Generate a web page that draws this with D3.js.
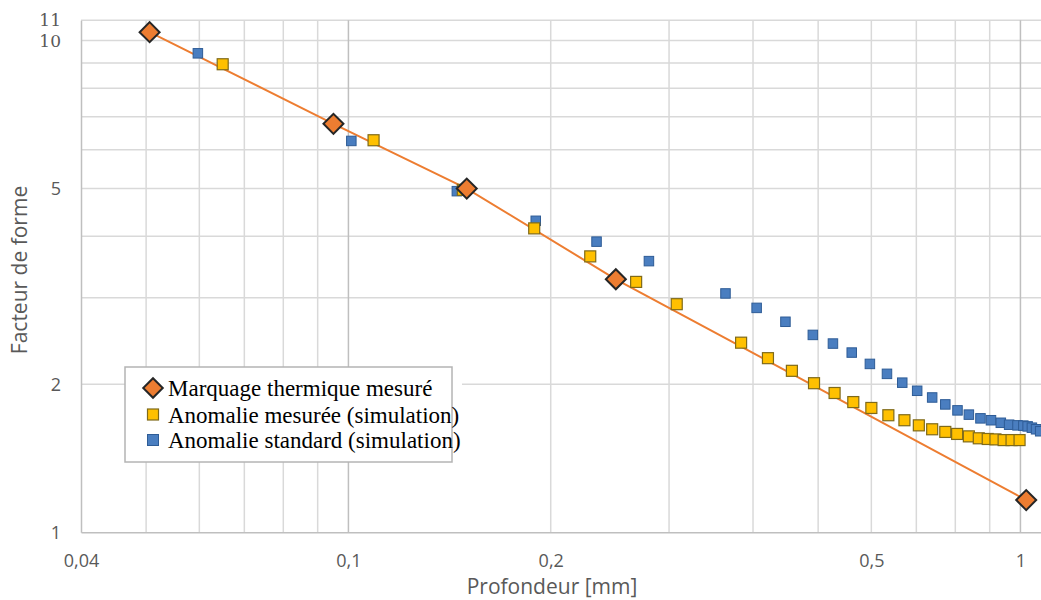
<!DOCTYPE html>
<html>
<head>
<meta charset="utf-8">
<script src="https://cdn.jsdelivr.net/npm/d3@7"></script>
<style>
  html, body { margin: 0; padding: 0; background: #ffffff; }
  svg { display: block; }
</style>
</head>
<body>
<svg id="chart" width="1041" height="600"></svg>
<script>
// ---- Data ----
const seriesNames = ["Marquage thermique mesuré", "Anomalie mesurée (simulation)", "Anomalie standard (simulation)"];

const markDepth = [0.0506, 0.095, 0.15, 0.25, 1.02];
const markForm  = [10.4, 6.77, 5.0, 3.27, 1.163];

const mesDepth = [0.065, 0.109, 0.148, 0.189, 0.229, 0.268, 0.308, 0.384, 0.421, 0.457, 0.493, 0.529, 0.564, 0.600, 0.636, 0.672, 0.706, 0.739, 0.773, 0.805, 0.838, 0.867, 0.894, 0.918, 0.944, 0.970, 0.997];
const mesForm  = [8.95, 6.27, 4.97, 4.15, 3.64, 3.23, 2.91, 2.43, 2.26, 2.13, 2.01, 1.92, 1.84, 1.79, 1.73, 1.69, 1.65, 1.62, 1.60, 1.585, 1.567, 1.553, 1.548, 1.545, 1.54, 1.54, 1.54];

const stdDepth = [0.0597, 0.101, 0.145, 0.190, 0.234, 0.280, 0.364, 0.405, 0.447, 0.491, 0.526, 0.561, 0.597, 0.633, 0.667, 0.702, 0.739, 0.773, 0.806, 0.838, 0.872, 0.904, 0.935, 0.962, 0.990, 1.01, 1.025, 1.04, 1.055, 1.07];
const stdForm  = [9.42, 6.25, 4.94, 4.30, 3.90, 3.56, 3.06, 2.86, 2.68, 2.52, 2.42, 2.32, 2.20, 2.10, 2.015, 1.94, 1.88, 1.82, 1.77, 1.735, 1.705, 1.69, 1.67, 1.655, 1.65, 1.648, 1.642, 1.632, 1.62, 1.605];

// axis ticks (label "0,5" sits on the 0.6 gridline in the reference)
const xTickValues = [0.04, 0.1, 0.2, 0.6, 1];
const xTickLabels = ["0,04", "0,1", "0,2", "0,5", "1"];
const xGridValues = [0.05, 0.06, 0.07, 0.08, 0.09, 0.1, 0.2, 0.3, 0.4, 0.5, 0.6, 0.7, 0.8, 0.9, 1];
const xMajorGrid = [0.1, 1];
const yTickValues = [1, 2, 5, 10, 11];
const yTickLabels = ["1", "2", "5", "10", "11"];
const yGridValues = [2, 3, 4, 5, 6, 7, 8, 9, 10, 11];

const xTitle = "Profondeur [mm]";
const yTitle = "Facteur de forme";

// ---- Layout ----
const svg = d3.select("#chart");
const pLeft = 81, pRight = 1041, pTop = 20.2, pBottom = 532.3;

const x = d3.scaleLog().domain([0.04, 1.073]).range([pLeft, pRight]);
const y = d3.scaleLog().domain([1, 11]).range([pBottom, pTop]);

const sans = "'Open Sans', 'Noto Sans', sans-serif";
const serif = "'Liberation Serif', 'DejaVu Serif', serif";
const tickSerif = "'DejaVu Serif', 'Liberation Serif', serif";
const textGray = "#595959";

// gridlines
const grid = svg.append("g");
grid.selectAll("line.h").data(yGridValues).join("line")
  .attr("x1", pLeft).attr("x2", pRight)
  .attr("y1", d => y(d)).attr("y2", d => y(d))
  .attr("stroke", "#d9d9d9").attr("stroke-width", 1.5);
grid.selectAll("line.v").data(xGridValues).join("line")
  .attr("x1", d => x(d)).attr("x2", d => x(d))
  .attr("y1", pTop).attr("y2", pBottom)
  .attr("stroke", d => xMajorGrid.includes(d) ? "#bfbfbf" : "#d9d9d9")
  .attr("stroke-width", 1.5);

// axes
const xAxis = d3.axisBottom(x).tickValues(xTickValues)
  .tickFormat((d, i) => xTickLabels[i]).tickSize(0).tickPadding(22);
const gx = svg.append("g").attr("transform", `translate(0,${pBottom})`).call(xAxis);
gx.select(".domain").attr("stroke", "#bfbfbf").attr("stroke-width", 1.5);
gx.selectAll("text").attr("fill", textGray).style("font-family", sans).style("font-size", "18px");

const yAxis = d3.axisLeft(y).tickValues(yTickValues)
  .tickFormat((d, i) => yTickLabels[i]).tickSize(0).tickPadding(20);
const gy = svg.append("g").attr("transform", `translate(${pLeft},0)`).call(yAxis);
gy.select(".domain").attr("stroke", "#bfbfbf").attr("stroke-width", 1.5);
gy.selectAll("text").attr("fill", textGray)
  .style("font-family", d => d >= 10 ? tickSerif : sans)
  .style("font-size", d => d >= 10 ? "17px" : "18px");

// titles
svg.append("text").attr("x", 552).attr("y", 594)
  .attr("text-anchor", "middle").attr("fill", textGray)
  .style("font-family", sans).style("font-size", "21px").text(xTitle);
svg.append("text").attr("transform", "translate(27,270) rotate(-90)")
  .attr("text-anchor", "middle").attr("fill", textGray)
  .style("font-family", sans).style("font-size", "21px").text(yTitle);

// series
const plot = svg.append("g");
const markData = markDepth.map((d, i) => [d, markForm[i]]);
const mesData = mesDepth.map((d, i) => [d, mesForm[i]]);
const stdData = stdDepth.map((d, i) => [d, stdForm[i]]);

const orange = "#ED7D31", yellow = "#FFC000", blue = "#4A7EC0";

plot.append("path").datum(markData)
  .attr("fill", "none").attr("stroke", orange).attr("stroke-width", 2)
  .attr("d", d3.line().x(d => x(d[0])).y(d => y(d[1])));

plot.selectAll("rect.std").data(stdData).join("rect")
  .attr("x", d => x(d[0]) - 4.75).attr("y", d => y(d[1]) - 4.75)
  .attr("width", 9.5).attr("height", 9.5)
  .attr("fill", blue).attr("stroke", "#2E5C96").attr("stroke-width", 1);

plot.selectAll("rect.mes").data(mesData).join("rect")
  .attr("x", d => x(d[0]) - 5.5).attr("y", d => y(d[1]) - 5.5)
  .attr("width", 11).attr("height", 11)
  .attr("fill", yellow).attr("stroke", "#7F6A1A").attr("stroke-width", 1.2);

const diamond = d3.symbol().type(d3.symbolSquare).size(200);
plot.selectAll("path.mark").data(markData).join("path")
  .attr("transform", d => `translate(${x(d[0])},${y(d[1])}) rotate(45)`)
  .attr("d", diamond)
  .attr("fill", orange).attr("stroke", "#262626").attr("stroke-width", 2);

// legend
const lg = svg.append("g");
lg.append("rect").attr("x", 125).attr("y", 367).attr("width", 337).attr("height", 95).attr("fill", "#ffffff");
lg.append("rect").attr("x", 125).attr("y", 367).attr("width", 327).attr("height", 95)
  .attr("fill", "none").attr("stroke", "#b4b4b4").attr("stroke-width", 1.5);

const rowY = [388, 414.5, 440];
lg.append("path").attr("transform", `translate(153,${rowY[0]}) rotate(45)`)
  .attr("d", d3.symbol().type(d3.symbolSquare).size(190))
  .attr("fill", orange).attr("stroke", "#262626").attr("stroke-width", 2);
lg.append("rect").attr("x", 153 - 5.5).attr("y", rowY[1] - 5.5).attr("width", 11).attr("height", 11)
  .attr("fill", yellow).attr("stroke", "#7F6A1A").attr("stroke-width", 1.2);
lg.append("rect").attr("x", 153 - 5.5).attr("y", rowY[2] - 5.5).attr("width", 11).attr("height", 11)
  .attr("fill", blue).attr("stroke", "#2E5C96").attr("stroke-width", 1);

lg.selectAll("text.lg").data(seriesNames).join("text")
  .attr("x", 168).attr("y", (d, i) => rowY[i])
  .attr("dy", "0.35em")
  .attr("fill", "#000000")
  .style("font-family", serif).style("font-size", "23px")
  .text(d => d);
</script>
</body>
</html>
